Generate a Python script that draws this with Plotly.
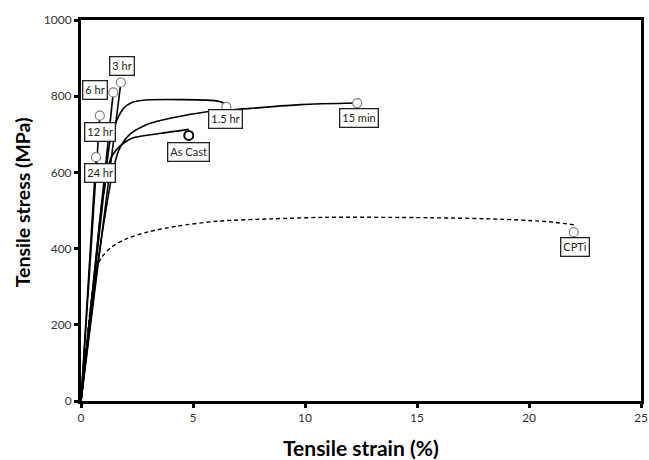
import plotly.graph_objects as go

# ---- data ----
x_3hr = [0, 1.12, 1.78]
y_3hr = [0, 527, 836]
x_6hr = [0, 0.94, 1.44]
y_6hr = [0, 527, 810]
x_12hr = [0, 0.59, 0.84]
y_12hr = [0, 527, 749]
x_24hr = [0, 0.55, 0.67]
y_24hr = [0, 527, 640]
x_15hr = [0, 0.95, 1.15, 1.33, 1.56, 1.9, 2.3, 2.9, 4.5, 5.8, 6.25, 6.42]
y_15hr = [0, 510, 620, 693, 732, 768, 784, 790, 791, 789, 785, 779]
x_15min = [0, 0.71, 1.0, 1.26, 1.45, 1.7, 2.2, 2.8, 3.4, 4.5, 5.63, 7.56, 9.78, 12.3]
y_15min = [0, 345, 460, 553, 610, 660, 701, 722, 734, 748, 759, 768, 778, 782]
x_cast = [0, 0.62, 0.93, 1.04, 1.19, 1.4, 1.8, 2.3, 3.5, 4.81]
y_cast = [0, 345, 520, 553, 610, 645, 672, 690, 702, 713]
x_cpti = [0, 0.67, 0.9, 1.36, 2.0, 2.94, 4.3, 6.11, 8.5, 10.86, 15.6, 18.8, 20.5, 21.15, 22.04]
y_cpti = [0, 345, 375, 404, 425, 443, 459, 472, 478, 482, 481, 477, 472, 469, 462]

# fracture points (open circles)
frac_labels = ["3 hr", "6 hr", "12 hr", "24 hr", "1.5 hr", "15 min", "As Cast", "CPTi"]
frac_x = [1.78, 1.44, 0.84, 0.67, 6.49, 12.33, 4.81, 22.0]
frac_y = [836, 810, 749, 640, 772, 782, 697, 443]

# label box positions
label_x = [1.82, 0.61, 0.85, 0.87, 6.43, 12.41, 4.81, 22.06]
label_y = [880, 815, 706, 598, 740, 743, 654, 405]

x_ticks = [0, 5, 10, 15, 20, 25]
y_ticks = [0, 200, 400, 600, 800, 1000]

FONT = "Lato"

fig = go.Figure()

solid = [
    (x_3hr, y_3hr, "linear"),
    (x_6hr, y_6hr, "linear"),
    (x_12hr, y_12hr, "linear"),
    (x_24hr, y_24hr, "linear"),
    (x_15hr, y_15hr, "spline"),
    (x_15min, y_15min, "spline"),
    (x_cast, y_cast, "spline"),
]
for xs, ys, shp in solid:
    fig.add_trace(go.Scatter(x=xs, y=ys, mode="lines",
                             line=dict(color="black", width=1.6, shape=shp, smoothing=0.8),
                             showlegend=False, hoverinfo="skip"))

fig.add_trace(go.Scatter(x=x_cpti, y=y_cpti, mode="lines",
                         line=dict(color="black", width=1.4, dash="4px,3px", shape="spline", smoothing=0.8),
                         showlegend=False, hoverinfo="skip"))

mk_colors = ["#808080"] * 8
mk_widths = [1.2] * 8
mk_colors[6] = "black"
mk_widths[6] = 2
fig.add_trace(go.Scatter(x=frac_x, y=frac_y, mode="markers",
                         marker=dict(symbol="circle", size=9, color="white",
                                     line=dict(color=mk_colors, width=mk_widths)),
                         showlegend=False, hoverinfo="skip"))

for t, lx, ly in zip(frac_labels, label_x, label_y):
    fig.add_annotation(x=lx, y=ly, text=t, showarrow=False,
                       font=dict(family=FONT, size=11, color="#222"),
                       bgcolor="white", bordercolor="#222", borderwidth=1.3, borderpad=2)

fig.add_annotation(xref="paper", yref="paper", x=0.5, y=-0.123, text="<b>Tensile strain (%)</b>",
                   showarrow=False, xanchor="center", yanchor="middle",
                   font=dict(family=FONT, size=21, color="black"))
fig.add_annotation(xref="paper", yref="paper", x=-0.105, y=0.522, text="<b>Tensile stress (MPa)</b>",
                   showarrow=False, xanchor="center", yanchor="middle", textangle=-90,
                   font=dict(family=FONT, size=19.5, color="black"))

fig.update_xaxes(range=[0, 25], tickvals=x_ticks, ticktext=[str(v) for v in x_ticks],
                 showline=True, linewidth=3, linecolor="black", mirror=True,
                 ticks="outside", ticklen=4, tickwidth=3, tickcolor="black",
                 showgrid=False, zeroline=False, automargin=False,
                 tickfont=dict(family=FONT, size=12, color="#333"))
fig.update_yaxes(range=[0, 1000], tickvals=y_ticks, ticktext=[str(v) for v in y_ticks],
                 showline=True, linewidth=3, linecolor="black", mirror=True,
                 ticks="outside", ticklen=4, tickwidth=3, tickcolor="black",
                 showgrid=False, zeroline=False, automargin=False,
                 tickfont=dict(family=FONT, size=12, color="#333"))

fig.update_layout(width=649, height=460, margin=dict(l=81, r=8, t=20, b=59),
                  plot_bgcolor="white", paper_bgcolor="white")

fig.write_html("out.html", config={"displayModeBar": False},
               post_script="document.body.style.margin='0';document.body.style.overflow='hidden';")
